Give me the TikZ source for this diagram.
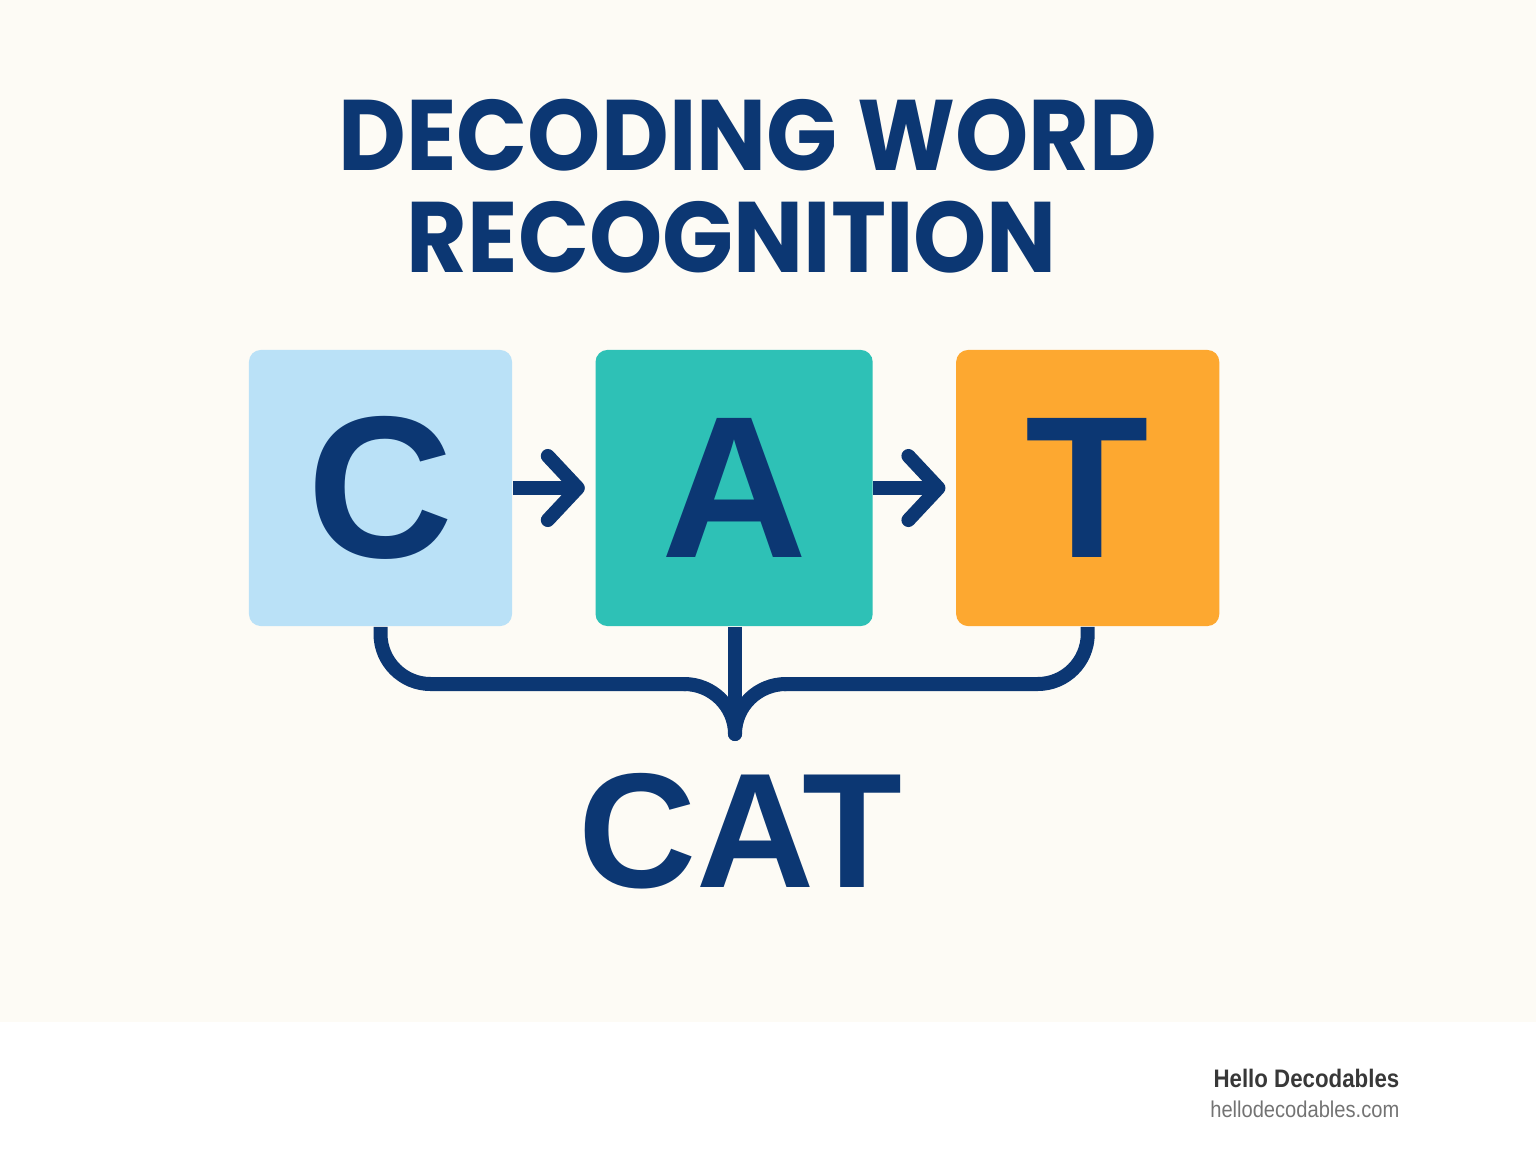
\documentclass[tikz,border=0pt]{standalone}
\usepackage{fontspec}
\setmainfont{Liberation Sans}
\newfontfamily\titlefont{Poppins}
\usepackage{tikz}
\usetikzlibrary{arrows.meta, positioning}

\definecolor{navy}{HTML}{0C3773}
\definecolor{cream}{HTML}{FDFBF5}
\definecolor{skyblue}{HTML}{BAE1F7}
\definecolor{tealbox}{HTML}{2EC1B6}
\definecolor{orangebox}{HTML}{FDA830}

\begin{document}
\begin{tikzpicture}[x=0.01cm, y=-0.01cm,
  titleline/.style={text=navy, inner sep=0pt, font=\titlefont\fontsize{28.5}{29}\selectfont\bfseries},
  letterbox/.style={rounded corners=0.12cm, minimum width=2.63cm, minimum height=2.76cm, inner sep=0pt, text=navy, font=\fontsize{57.5}{60}\selectfont\bfseries},
  link/.style={draw=navy, line width=0.14cm, -{Straight Barb[length=0.3cm, width=0.64cm, round]}, shorten >=0.1cm},
  bracket/.style={draw=navy, line width=0.14cm}]

\useasboundingbox (0,0) rectangle (1536,1154);
\fill[cream] (0,0) rectangle (1536,1022);

% title
\node (titleTop) [titleline, anchor=base] at (748,170) {\scalebox{0.93}[1]{DECODING WORD}};
\node (titleBottom) [titleline, anchor=base] at (732,272) {\scalebox{0.93}[1]{RECOGNITION}};

% letter boxes
\node (boxC) [letterbox, fill=skyblue] at (380.5,488) {C};
\node (boxA) [letterbox, fill=tealbox, minimum width=2.77cm, right=0.82cm of boxC] {A};
\node (boxT) [letterbox, fill=orangebox, right=0.82cm of boxA] {T};

\draw [link] (boxC) -- (boxA);
\draw [link] (boxA) -- (boxT);

% bracket
\coordinate (join) at (735,734);
\coordinate (leftEnd) at (684,684);
\coordinate (rightEnd) at (786,684);
\draw [bracket, rounded corners=0.5cm] (boxC.south) |- ([xshift=0.02cm]leftEnd);
\draw [bracket, rounded corners=0.5cm] (boxT.south) |- ([xshift=-0.02cm]rightEnd);
\draw [bracket, line cap=round] (leftEnd) .. controls (712,684) and (735,706) .. (join);
\draw [bracket, line cap=round] (rightEnd) .. controls (758,684) and (735,706) .. (join);
\draw [bracket] (boxA.south -| join) -- (join);

\node (word) [text=navy, inner sep=0pt, font=\fontsize{46.5}{48}\selectfont\bfseries] at (740,831) {CAT};

% footer
\node (brand) [anchor=base east, inner sep=0pt, text=black!78, font=\fontsize{7.2}{8}\selectfont\bfseries] at (1400,1087) {\scalebox{0.88}[1]{Hello Decodables}};
\node (site) [anchor=base east, inner sep=0pt, text=black!55, font=\fontsize{6.5}{7}\selectfont] at (1400,1117) {\scalebox{0.88}[1]{hellodecodables.com}};

\end{tikzpicture}
\end{document}
